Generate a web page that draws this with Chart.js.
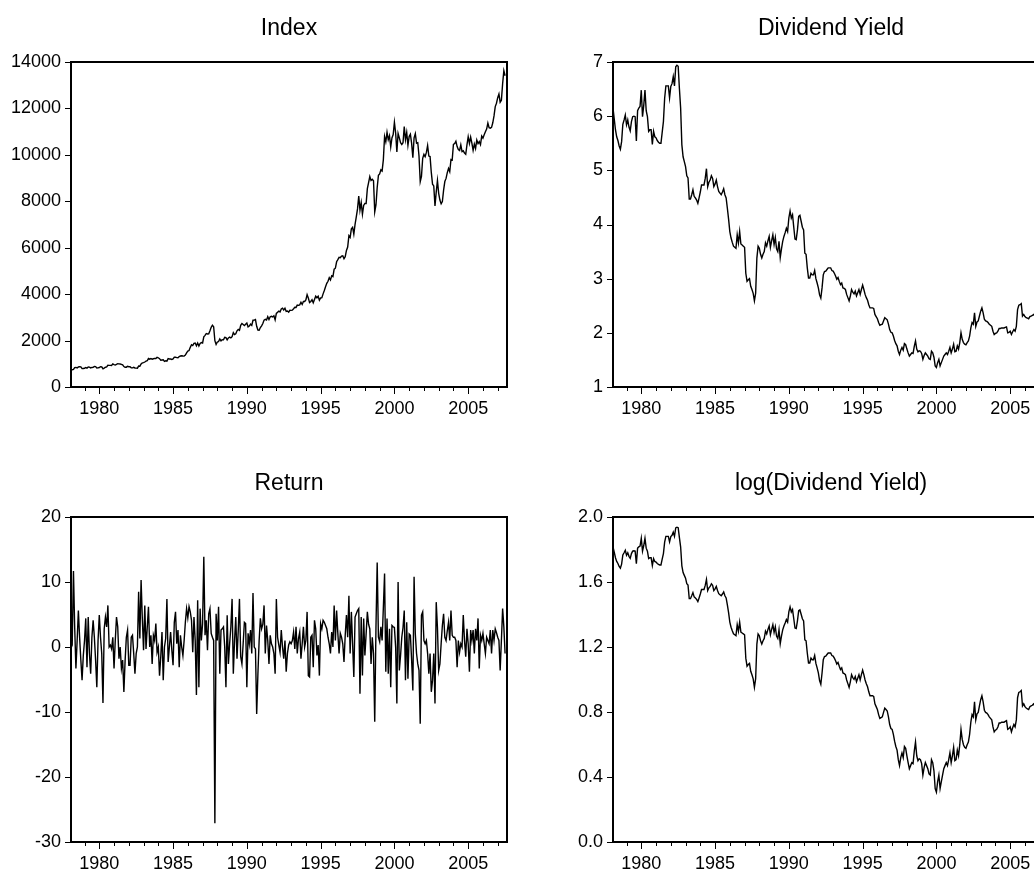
<!DOCTYPE html>
<html>
<head>
<meta charset="utf-8">
<title>Index, Dividend Yield, Return</title>
<script src="https://cdn.jsdelivr.net/npm/chart.js@4.4.1/dist/chart.umd.min.js"></script>
<style>
  html, body { margin: 0; padding: 0; background: #fff; overflow: hidden; }
  body { width: 1034px; height: 870px; position: relative; }
  canvas { position: absolute; }
</style>
</head>
<body>
<canvas id="index-chart" width="520" height="435" style="left:0;top:0"></canvas>
<canvas id="yield-chart" width="540" height="435" style="left:520px;top:0"></canvas>
<canvas id="return-chart" width="520" height="435" style="left:0;top:435px"></canvas>
<canvas id="logyield-chart" width="540" height="435" style="left:520px;top:435px"></canvas>
<script>
// monthly data, 1978:01 - 2007:06 (one row per year)
const startYear = 1978;

const indexValues = [
  770, 742, 757, 837, 841, 819, 862, 877, 866, 792, 799, 805,
  839, 809, 862, 855, 822, 842, 846, 888, 879, 816, 822, 839,
  876, 863, 786, 817, 851, 868, 935, 933, 932, 924, 993, 964,
  947, 975, 1004, 998, 992, 977, 952, 881, 850, 853, 889, 875,
  871, 824, 823, 848, 820, 812, 809, 901, 896, 992, 1039, 1047,
  1076, 1113, 1130, 1226, 1200, 1222, 1199, 1216, 1233, 1225, 1276, 1259,
  1221, 1155, 1165, 1171, 1105, 1132, 1115, 1224, 1207, 1207, 1189, 1212,
  1287, 1284, 1267, 1258, 1315, 1335, 1347, 1334, 1329, 1374, 1472, 1547,
  1571, 1709, 1819, 1784, 1877, 1893, 1775, 1898, 1768, 1878, 1914, 1896,
  2158, 2224, 2305, 2286, 2292, 2419, 2572, 2663, 2596, 1994, 1834, 1939,
  1958, 2072, 1988, 2032, 2031, 2142, 2129, 2032, 2113, 2149, 2115, 2169,
  2342, 2258, 2294, 2419, 2480, 2440, 2661, 2737, 2693, 2645, 2706, 2753,
  2591, 2627, 2707, 2657, 2877, 2881, 2905, 2614, 2452, 2442, 2560, 2634,
  2736, 2882, 2914, 2888, 3028, 2907, 3025, 3044, 3017, 3069, 2895, 3169,
  3223, 3268, 3235, 3359, 3397, 3319, 3394, 3257, 3272, 3226, 3305, 3301,
  3310, 3371, 3435, 3428, 3527, 3516, 3539, 3651, 3555, 3681, 3684, 3754,
  3978, 3832, 3636, 3682, 3758, 3625, 3765, 3913, 3843, 3908, 3739, 3834,
  3844, 4011, 4158, 4321, 4465, 4556, 4708, 4611, 4789, 4755, 5074, 5117,
  5395, 5486, 5587, 5569, 5643, 5655, 5529, 5616, 5882, 6029, 6522, 6448,
  6813, 6878, 6583, 7009, 7331, 7673, 8223, 7622, 7945, 7442, 7823, 7908,
  7907, 8546, 8800, 9063, 8900, 8952, 8883, 7539, 7843, 8592, 9117, 9181,
  9359, 9307, 9786, 10789, 10560, 10971, 10655, 10829, 10337, 10730, 10878, 11400,
  10941, 10128, 10922, 10734, 10522, 10448, 10522, 11215, 10651, 10971, 10414, 10787,
  10887, 10495, 9879, 10735, 10912, 10502, 10523, 9950, 8848, 9075, 9852, 10022,
  9920, 10106, 10404, 9946, 9925, 9243, 8737, 8664, 7800, 8397, 8896, 8342,
  8054, 7891, 7992, 8480, 8850, 8985, 9234, 9416, 9275, 9801, 9782, 10454,
  10488, 10584, 10358, 10226, 10188, 10435, 10140, 10174, 10080, 10027, 10428, 10783,
  10490, 10766, 10504, 10193, 10467, 10275, 10641, 10482, 10569, 10440, 10806, 10718,
  10865, 10993, 11109, 11367, 11168, 11150, 11186, 11381, 11679, 12081, 12222, 12463,
  12622, 12269, 12354, 13063, 13628, 13409
];

const dividendYield = [
  6.15, 5.95, 5.75, 5.62, 5.55, 5.45, 5.39, 5.53, 5.85, 5.93, 6.02, 5.84,
  5.93, 5.80, 5.73, 5.90, 5.99, 6.00, 5.99, 5.54, 6.10, 6.15, 6.18, 6.48,
  5.99, 6.20, 6.48, 6.10, 5.99, 5.72, 5.75, 5.75, 5.48, 5.72, 5.62, 5.60,
  5.55, 5.52, 5.50, 5.50, 5.70, 5.90, 6.33, 6.56, 6.56, 6.56, 6.34, 6.55,
  6.60, 6.73, 6.56, 6.91, 6.94, 6.92, 6.51, 6.15, 5.47, 5.25, 5.16, 5.07,
  4.90, 4.86, 4.47, 4.47, 4.55, 4.64, 4.52, 4.49, 4.45, 4.39, 4.49, 4.60,
  4.73, 4.73, 4.73, 4.85, 5.03, 4.70, 4.78, 4.82, 4.90, 4.85, 4.70, 4.75,
  4.82, 4.70, 4.61, 4.58, 4.55, 4.60, 4.66, 4.55, 4.49, 4.30, 4.10, 3.87,
  3.75, 3.67, 3.60, 3.58, 3.56, 3.81, 3.66, 3.87, 3.64, 3.62, 3.60, 3.58,
  3.10, 2.95, 2.98, 3.00, 2.86, 2.80, 2.73, 2.59, 2.73, 3.38, 3.60, 3.56,
  3.45, 3.38, 3.45, 3.50, 3.66, 3.60, 3.70, 3.78, 3.58, 3.70, 3.81, 3.63,
  3.76, 3.55, 3.50, 3.69, 3.39, 3.55, 3.69, 3.78, 3.85, 3.93, 3.87, 4.12,
  4.25, 4.12, 4.18, 3.95, 3.73, 3.72, 3.90, 4.15, 4.17, 4.06, 3.95, 3.90,
  3.47, 3.45, 3.20, 3.01, 3.01, 3.10, 3.07, 3.07, 3.15, 3.00, 2.92, 2.83,
  2.70, 2.64, 2.83, 3.07, 3.13, 3.14, 3.17, 3.20, 3.20, 3.20, 3.15, 3.14,
  3.10, 3.05, 2.99, 3.02, 2.95, 2.89, 2.92, 2.83, 2.82, 2.80, 2.71, 2.65,
  2.59, 2.68, 2.80, 2.75, 2.72, 2.77, 2.68, 2.74, 2.80, 2.71, 2.80, 2.88,
  2.80, 2.71, 2.65, 2.60, 2.52, 2.46, 2.46, 2.46, 2.45, 2.34, 2.30, 2.26,
  2.19, 2.14, 2.15, 2.16, 2.22, 2.28, 2.26, 2.24, 2.16, 2.06, 2.01, 2.00,
  1.94, 1.86, 1.80, 1.76, 1.66, 1.60, 1.68, 1.73, 1.68, 1.80, 1.78, 1.70,
  1.63, 1.57, 1.60, 1.63, 1.62, 1.75, 1.85, 1.70, 1.65, 1.67, 1.66, 1.62,
  1.51, 1.58, 1.63, 1.60, 1.57, 1.52, 1.51, 1.66, 1.63, 1.55, 1.39, 1.36,
  1.45, 1.51, 1.39, 1.45, 1.51, 1.57, 1.60, 1.63, 1.60, 1.66, 1.73, 1.63,
  1.70, 1.79, 1.65, 1.66, 1.76, 1.70, 1.82, 2.00, 1.88, 1.82, 1.79, 1.78,
  1.82, 1.85, 1.94, 2.09, 2.19, 2.16, 2.37, 2.12, 2.20, 2.22, 2.31, 2.40,
  2.46, 2.37, 2.25, 2.22, 2.21, 2.19, 2.16, 2.14, 2.12, 2.03, 1.97, 1.99,
  2.00, 2.03, 2.08, 2.08, 2.09, 2.09, 2.09, 2.10, 2.11, 2.00, 2.01, 2.03,
  1.97, 2.02, 2.06, 2.03, 2.12, 2.43, 2.51, 2.52, 2.54, 2.31, 2.34, 2.30,
  2.28, 2.27, 2.26, 2.30, 2.31, 2.32, 2.34, 2.31, 2.28, 2.27, 2.25, 2.24,
  2.22, 2.21, 2.18, 2.20, 2.10, 2.02
];

const returnValues = [
  1.0, 0.5, 11.7, 3.0, -3.3, 1.0, 5.6, 1.5, -2.0, -5.1, -1.3, 1.0,
  4.4, -3.1, 4.6, -1.0, -4.1, 1.5, 4.1, 1.5, -2.0, -6.2, 1.0, 4.9,
  1.5, -1.0, -8.6, 2.8, 4.6, 3.1, 6.4, 0.0, 0.3, -0.3, 1.5, -3.3,
  1.0, 4.6, 3.1, -1.8, 0.0, -3.3, -2.0, -6.9, -2.1, 1.5, 2.6, -2.8,
  -2.8, 1.5, 1.8, -1.0, -4.1, -1.0, 0.0, 8.5, 1.3, 10.3, 4.4, -0.5,
  6.4, -0.3, 3.0, 6.2, 0.0, 1.8, -2.6, 1.8, 1.0, 3.6, -0.8, 0.0,
  -4.4, -1.5, 2.3, -5.1, 0.0, 1.3, 7.4, -2.3, 0.0, 2.3, -0.5, -2.8,
  3.8, 5.4, 0.5, 2.6, -3.1, 1.8, 0.0, -1.3, 1.0, 3.8, 5.9, 4.5,
  6.2, 5.4, 4.1, -0.8, 4.6, 1.0, -7.4, 7.2, -6.2, 5.9, 1.0, 3.6,
  13.9, 1.8, 4.1, -0.5, 5.1, 5.9, 2.1, 1.5, 1.0, -27.1, 5.1, 1.0,
  6.2, -4.1, 2.6, 2.8, 3.1, 0.0, -6.2, 4.9, -2.6, 0.5, 3.1, 7.4,
  -4.1, 1.0, 4.6, -1.8, 2.5, 7.4, -1.5, -2.6, 0.5, 3.8, 3.6, -6.2,
  2.1, 0.5, 2.6, -1.0, 8.3, 0.0, -0.3, -10.3, -4.1, 1.0, 4.4, 2.8,
  3.5, 6.4, -1.0, 3.3, 1.0, -2.6, 1.8, 0.5, 0.0, -1.0, -4.1, 7.4,
  1.5, 0.3, -0.8, 2.6, 0.0, -1.8, 1.0, -3.8, -1.0, 0.3, 0.8, 0.5,
  1.0, 2.3, -0.3, 3.1, -1.0, 1.3, 2.3, -1.8, 0.5, 3.1, 0.0, 1.0,
  5.4, -4.4, -4.6, 1.5, 1.8, -3.1, 4.1, 2.8, -1.3, 0.3, -4.4, 3.6,
  2.8, 4.1, 3.8, 3.3, 2.8, 1.5, 0.5, -1.0, 2.3, 0.0, 6.4, 1.0,
  5.6, 2.1, -1.0, 2.1, 1.5, 0.5, -2.3, 1.8, 4.9, 1.5, 7.9, -1.0,
  5.4, 0.5, -4.6, 4.6, 5.1, 5.6, 5.9, -7.2, 4.6, -4.4, 4.4, -1.3,
  2.0, 5.4, 3.5, 2.8, -2.6, 1.5, -1.0, -11.5, 3.0, 13.0, 1.5, 0.8,
  3.1, 1.0, 6.0, 11.3, -3.8, 4.4, -4.1, 2.8, -6.2, 3.3, 3.1, 3.0,
  0.0, -8.7, 10.0, -3.6, -1.3, 1.5, 3.0, 5.6, -5.1, 3.8, -4.9, 2.0,
  1.8, -2.0, -6.7, 10.8, 2.0, -1.0, -2.6, -3.6, -11.8, 4.9, 5.4, 1.0,
  0.5, 1.0, -1.0, -4.1, -1.0, -6.9, -5.1, -1.0, -8.7, 6.9, 3.0, -3.6,
  -2.6, 0.5, 3.3, 5.1, 1.5, 1.0, 2.5, 3.8, 1.0, 5.6, 1.8, 1.5,
  1.5, 1.0, -3.1, 1.0, -0.8, 0.5, 0.0, 4.9, 1.0, -1.5, 2.8, 0.5,
  -3.8, 2.6, 1.0, 2.6, -1.0, 2.8, 1.0, 4.4, -3.3, 1.8, 1.0, 2.1,
  0.5, -1.0, 1.5, 1.0, 0.5, 2.6, -1.0, 2.6, 1.0, 2.8, 2.2, 1.5,
  1.0, -3.6, 1.0, 5.9, 3.1, -1.0
];

// axis ticks
const yearTicks = [1980, 1985, 1990, 1995, 2000, 2005];
const indexTicks = [0, 2000, 4000, 6000, 8000, 10000, 12000, 14000];
const yieldTicks = [1, 2, 3, 4, 5, 6, 7];
const returnTicks = [-30, -20, -10, 0, 10, 20];
const logYieldTicks = [0.0, 0.4, 0.8, 1.2, 1.6, 2.0];

// time of each observation (end of month) and the x range of the frame
const monthTimes = indexValues.map((v, i) => startYear + (i + 1) / 12);
const xMin = monthTimes[0];
const xMax = 2007.63;

const fontFamily = '"Liberation Sans", Arial, Helvetica, sans-serif';

// frame, tick marks and the panel title
const panelPlugin = {
  id: 'panel',
  afterDraw(chart, args, opts) {
    const ctx = chart.ctx;
    const a = chart.chartArea;
    const xs = chart.scales.x;
    const ys = chart.scales.y;
    ctx.save();
    ctx.strokeStyle = '#000';
    ctx.lineWidth = 1;
    ctx.beginPath();
    ys.ticks.forEach(t => {
      const py = Math.round(ys.getPixelForValue(t.value)) + 0.5;
      ctx.moveTo(a.left - 6, py);
      ctx.lineTo(a.left, py);
    });
    for (let yr = Math.ceil(xs.min); yr <= xs.max; yr++) {
      const px = Math.round(xs.getPixelForValue(yr)) + 0.5;
      ctx.moveTo(px, a.bottom);
      ctx.lineTo(px, a.bottom + (yr % 5 === 0 ? 7 : 4));
    }
    ctx.stroke();

    ctx.lineWidth = 2;
    ctx.strokeRect(a.left, a.top, a.right - a.left, a.bottom - a.top);

    ctx.fillStyle = '#000';
    ctx.font = '23px ' + fontFamily;
    ctx.textAlign = 'center';
    ctx.textBaseline = 'alphabetic';
    ctx.fillText(opts.text, (a.left + a.right) / 2, a.top - 27);
    ctx.restore();
  }
};

function buildChart(id, cfg) {
  const tickFont = { family: fontFamily, size: 18 };
  return new Chart(document.getElementById(id), {
    type: 'line',
    data: {
      datasets: [{
        data: cfg.values.map((v, i) => ({ x: monthTimes[i], y: v })),
        borderColor: '#000',
        borderWidth: 1.4,
        pointRadius: 0,
        tension: 0,
        fill: false
      }]
    },
    options: {
      responsive: false,
      animation: false,
      devicePixelRatio: 1,
      layout: { padding: { top: cfg.top, right: cfg.right, bottom: cfg.bottom, left: 0 } },
      plugins: {
        legend: { display: false },
        tooltip: { enabled: false },
        panel: { text: cfg.title }
      },
      scales: {
        x: {
          type: 'linear',
          min: xMin,
          max: xMax,
          grid: { display: false, drawTicks: false },
          border: { display: false },
          afterBuildTicks: s => { s.ticks = yearTicks.map(v => ({ value: v })); },
          afterFit: s => { s.height = cfg.xHeight; },
          ticks: {
            padding: 11,
            color: '#000',
            font: tickFont,
            maxRotation: 0,
            autoSkip: false,
            callback: v => String(v)
          }
        },
        y: {
          type: 'linear',
          min: cfg.ticks[0],
          max: cfg.ticks[cfg.ticks.length - 1],
          grid: { display: false, drawTicks: false },
          border: { display: false },
          afterBuildTicks: s => { s.ticks = cfg.ticks.map(v => ({ value: v })); },
          afterFit: s => { s.width = cfg.yWidth; },
          ticks: {
            padding: 10,
            color: '#000',
            font: tickFont,
            callback: cfg.format
          }
        }
      }
    },
    plugins: [panelPlugin]
  });
}

buildChart('index-chart', {
  title: 'Index', values: indexValues, ticks: indexTicks,
  format: v => String(v),
  top: 62, right: 13, bottom: 8, xHeight: 40, yWidth: 71
});

buildChart('yield-chart', {
  title: 'Dividend Yield', values: dividendYield, ticks: yieldTicks,
  format: v => String(v),
  top: 62, right: 11, bottom: 8, xHeight: 40, yWidth: 93
});

buildChart('return-chart', {
  title: 'Return', values: returnValues, ticks: returnTicks,
  format: v => String(v),
  top: 82, right: 13, bottom: 0, xHeight: 28, yWidth: 71
});

buildChart('logyield-chart', {
  title: 'log(Dividend Yield)', values: dividendYield.map(v => Math.log(v)), ticks: logYieldTicks,
  format: v => v.toFixed(1),
  top: 82, right: 11, bottom: 0, xHeight: 28, yWidth: 93
});
</script>
</body>
</html>
